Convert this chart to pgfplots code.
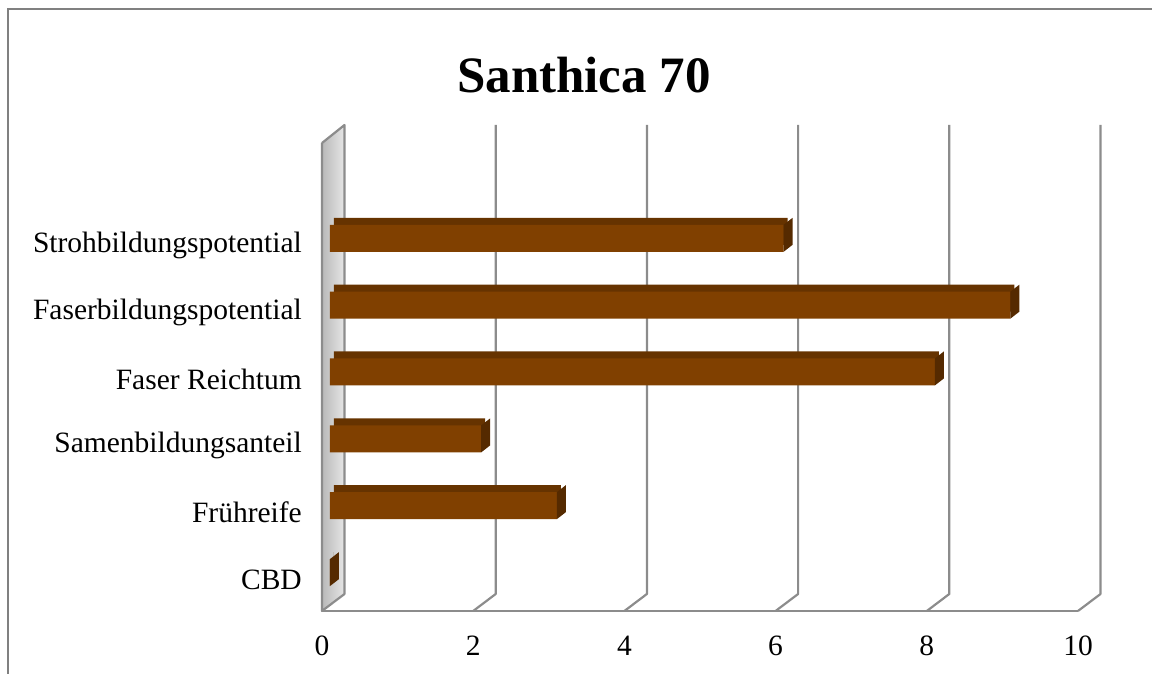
\documentclass[border=0pt]{standalone}
\usepackage{fontspec}
\setmainfont{Liberation Serif}
\usepackage{pgfplots}
\usepackage{pgfplotstable}
\pgfplotsset{compat=1.18}
\definecolor{barfront}{RGB}{128,64,0}
\definecolor{bartop}{RGB}{102,51,0}
\definecolor{barside}{RGB}{85,42,0}
\definecolor{gridgray}{RGB}{140,140,140}
\definecolor{framegray}{RGB}{128,128,128}
\pgfdeclareplotmark{sideface}{%
  \pgfpathmoveto{\pgfpoint{8pt}{-8.5pt}}%
  \pgfpathlineto{\pgfpoint{17pt}{-1.5pt}}%
  \pgfpathlineto{\pgfpoint{17pt}{25.5pt}}%
  \pgfpathlineto{\pgfpoint{8pt}{18.5pt}}%
  \pgfpathclose\pgfusepathqfill}
\pgfplotstableread{
y v
1 0
2 3
3 2
4 8
5 9
6 6
}\data
\begin{document}
\begin{tikzpicture}
\useasboundingbox (0pt,0pt) rectangle (1152pt,674pt);
\draw[framegray, line width=1.5pt] (8pt,0pt) -- (8pt,665pt) -- (1152pt,665pt);
\node[font=\bfseries\fontsize{51}{60}\selectfont] at (584pt,599pt) {Santhica 70};
\begin{axis}[at={(322pt,63pt)}, anchor=south west, scale only axis,
  width=756pt, height=468pt,
  xmin=0, xmax=10, ymin=0.5, ymax=7.5, clip=false,
  axis line style={draw=none}, tick style={draw=none},
  xtick={0,2,4,6,8,10}, ytick={1,2,3,4,5,6},
  yticklabels={CBD,Frühreife,Samenbildungsanteil,Faser Reichtum,Faserbildungspotential,Strohbildungspotential},
  xticklabel style={inner sep=0pt, yshift=-25pt},
  yticklabel style={inner sep=0pt, xshift=-20pt, yshift=-2pt},
  tick label style={font=\fontsize{29.5}{35}\selectfont},
  /pgf/number format/assume math mode=true]
% left wall
\fill[left color=gray!55, right color=gray!20] (axis cs:0,0.5) -- ++(22.5pt,17pt) -- ++(0pt,469pt) -- (axis cs:0,7.5) -- cycle;
\draw[gridgray, line width=2.2pt, line join=round] (axis cs:0,7.5) -- (axis cs:0,0.5) -- ++(22.5pt,17pt) -- ++(0pt,469pt) -- (axis cs:0,7.5);
\draw[gridgray, line width=2.2pt] (axis cs:0,0.5) -- (axis cs:10,0.5);
\pgfplotsinvokeforeach{2,4,6,8,10}{
  \draw[gridgray, line width=2.2pt, line join=round] (axis cs:#1,0.5) -- ++(22.5pt,17pt) -- ++(0pt,469pt);
}
% bars
\addplot[xbar, bar width=27pt, fill=bartop, draw=none, transform canvas={xshift=12pt,yshift=12pt}] table[x=v,y=y]{\data};
\addplot[only marks, mark=sideface, mark options={fill=barside, draw=none}] table[x=v,y=y]{\data};
\addplot[xbar, bar width=27pt, fill=barfront, draw=none, transform canvas={xshift=8pt,yshift=5pt}] table[x=v,y=y]{\data};
\end{axis}
\end{tikzpicture}
\end{document}
